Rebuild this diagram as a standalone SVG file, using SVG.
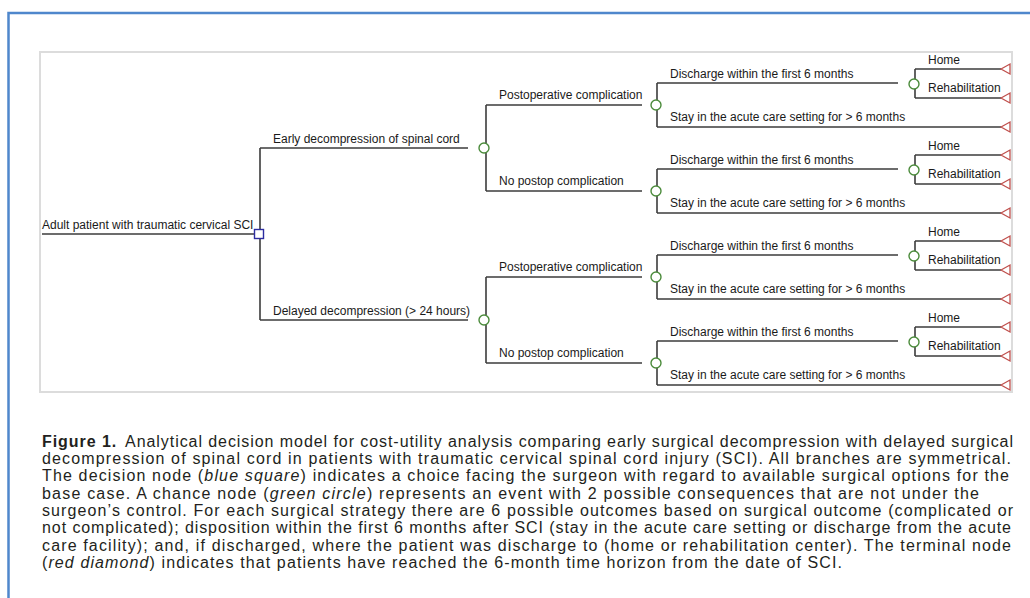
<svg xmlns="http://www.w3.org/2000/svg" width="1030" height="598" viewBox="0 0 1030 598">
<style>
.ln{stroke:#3c3c3c;stroke-width:1.6;fill:none}
.lb{font-family:"Liberation Sans",Arial,sans-serif;font-size:12px;fill:#1a1a1a}
.ch{stroke:#4b8b3b;stroke-width:1.4;fill:#fff}
.tm{stroke:#c0504d;stroke-width:1.3;fill:#fff}
.dc{stroke:#2c2ca0;stroke-width:1.4;fill:#fff}
.cap{font-family:"Liberation Sans",Arial,sans-serif;font-size:16px;fill:#231f20}
</style>
<defs>
<polygon id="tri" class="tm" points="1001,0 1010,-5 1010,5"/>
</defs>
<rect x="0" y="0" width="1030" height="598" fill="#fff"/>
<rect x="8.5" y="13" width="1040" height="620" fill="none" stroke="#4f87cc" stroke-width="2.5"/>
<rect x="40" y="52" width="972" height="340" fill="#fff" stroke="#dcdcdc" stroke-width="2"/>

<g id="connectors">
<path class="ln" d="M42,234H255 M260,148V320 M260,148H468 M260,320H468 M486,105V191 M486,277V363 M486,105H642 M486,191H642 M486,277H642 M486,363H642"/>
<path class="ln" d="M657,83V127 M657,83H898 M657,127H1001 M915,69V98 M915,69H1001 M915,98H1001"/>
<path class="ln" d="M657,169V213 M657,169H898 M657,213H1001 M915,155V184 M915,155H1001 M915,184H1001"/>
<path class="ln" d="M657,255V299 M657,255H898 M657,299H1001 M915,241V270 M915,241H1001 M915,270H1001"/>
<path class="ln" d="M657,341V385 M657,341H898 M657,385H1001 M915,327V356 M915,327H1001 M915,356H1001"/>
</g>

<g id="labels">
<text class="lb" x="42" y="229">Adult patient with traumatic cervical SCI</text>
<text class="lb" x="273" y="143">Early decompression of spinal cord</text>
<text class="lb" x="273" y="315">Delayed decompression (&gt; 24 hours)</text>
<text class="lb" x="499" y="99">Postoperative complication</text>
<text class="lb" x="499" y="185">No postop complication</text>
<text class="lb" x="499" y="271">Postoperative complication</text>
<text class="lb" x="499" y="357">No postop complication</text>
<text class="lb" x="670" y="78">Discharge within the first 6 months</text>
<text class="lb" x="670" y="121">Stay in the acute care setting for &gt; 6 months</text>
<text class="lb" x="928" y="64">Home</text>
<text class="lb" x="928" y="92">Rehabilitation</text>
<text class="lb" x="670" y="164">Discharge within the first 6 months</text>
<text class="lb" x="670" y="207">Stay in the acute care setting for &gt; 6 months</text>
<text class="lb" x="928" y="150">Home</text>
<text class="lb" x="928" y="178">Rehabilitation</text>
<text class="lb" x="670" y="250">Discharge within the first 6 months</text>
<text class="lb" x="670" y="293">Stay in the acute care setting for &gt; 6 months</text>
<text class="lb" x="928" y="236">Home</text>
<text class="lb" x="928" y="264">Rehabilitation</text>
<text class="lb" x="670" y="336">Discharge within the first 6 months</text>
<text class="lb" x="670" y="379">Stay in the acute care setting for &gt; 6 months</text>
<text class="lb" x="928" y="322">Home</text>
<text class="lb" x="928" y="350">Rehabilitation</text>
</g>

<g id="decision-root"><rect class="dc" x="254.5" y="229.5" width="9" height="9"/></g>
<g id="chance-early"><circle class="ch" cx="484" cy="148" r="5"/></g>
<g id="chance-delayed"><circle class="ch" cx="484" cy="320" r="5"/></g>
<g id="chance-early-comp"><circle class="ch" cx="656" cy="105" r="5"/></g>
<g id="chance-early-nocomp"><circle class="ch" cx="656" cy="191" r="5"/></g>
<g id="chance-delayed-comp"><circle class="ch" cx="656" cy="277" r="5"/></g>
<g id="chance-delayed-nocomp"><circle class="ch" cx="656" cy="363" r="5"/></g>
<g id="chance-discharge-1"><circle class="ch" cx="914" cy="84" r="5"/></g>
<g id="chance-discharge-2"><circle class="ch" cx="914" cy="170" r="5"/></g>
<g id="chance-discharge-3"><circle class="ch" cx="914" cy="256" r="5"/></g>
<g id="chance-discharge-4"><circle class="ch" cx="914" cy="342" r="5"/></g>

<g id="terminal-1"><use href="#tri" y="69"/></g>
<g id="terminal-2"><use href="#tri" y="98"/></g>
<g id="terminal-3"><use href="#tri" y="127"/></g>
<g id="terminal-4"><use href="#tri" y="155"/></g>
<g id="terminal-5"><use href="#tri" y="184"/></g>
<g id="terminal-6"><use href="#tri" y="213"/></g>
<g id="terminal-7"><use href="#tri" y="241"/></g>
<g id="terminal-8"><use href="#tri" y="270"/></g>
<g id="terminal-9"><use href="#tri" y="299"/></g>
<g id="terminal-10"><use href="#tri" y="327"/></g>
<g id="terminal-11"><use href="#tri" y="356"/></g>
<g id="terminal-12"><use href="#tri" y="385"/></g>

<g id="caption">
<text class="cap" x="42" y="446.5" textLength="971"><tspan font-weight="bold">Figure 1.</tspan><tspan dx="8">Analytical decision model for cost-utility analysis comparing early surgical decompression with delayed surgical</tspan></text>
<text class="cap" x="42" y="464" textLength="969">decompression of spinal cord in patients with traumatic cervical spinal cord injury (SCI). All branches are symmetrical.</text>
<text class="cap" x="42" y="481" textLength="967">The decision node (<tspan font-style="italic">blue square</tspan>) indicates a choice facing the surgeon with regard to available surgical options for the</text>
<text class="cap" x="42" y="498.5" textLength="937">base case. A chance node (<tspan font-style="italic">green circle</tspan>) represents an event with 2 possible consequences that are not under the</text>
<text class="cap" x="42" y="516" textLength="971">surgeon’s control. For each surgical strategy there are 6 possible outcomes based on surgical outcome (complicated or</text>
<text class="cap" x="42" y="533" textLength="969">not complicated); disposition within the first 6 months after SCI (stay in the acute care setting or discharge from the acute</text>
<text class="cap" x="42" y="550.5" textLength="969">care facility); and, if discharged, where the patient was discharge to (home or rehabilitation center). The terminal node</text>
<text class="cap" x="42" y="568" textLength="800">(<tspan font-style="italic">red diamond</tspan>) indicates that patients have reached the 6-month time horizon from the date of SCI.</text>
</g>
</svg>
